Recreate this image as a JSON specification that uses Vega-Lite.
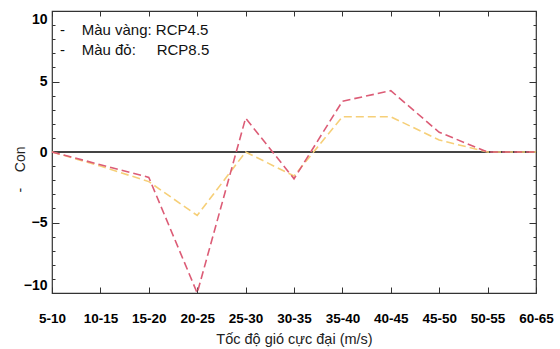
{
  "$schema": "https://vega.github.io/schema/vega-lite/v6.json",
  "width": 484,
  "height": 282,
  "autosize": {"type": "none"},
  "padding": {"left": 52, "top": 11, "right": 24, "bottom": 56},
  "background": "white",
  "config": {
    "view": {"stroke": "#333", "strokeWidth": 1.2},
    "font": "Liberation Sans"
  },
  "data": {
    "values": [
      {"cat": "5-10", "series": "RCP4.5", "v": 0},
      {"cat": "10-15", "series": "RCP4.5", "v": -1.0},
      {"cat": "15-20", "series": "RCP4.5", "v": -2.1},
      {"cat": "20-25", "series": "RCP4.5", "v": -4.5},
      {"cat": "25-30", "series": "RCP4.5", "v": 0},
      {"cat": "30-35", "series": "RCP4.5", "v": -1.7},
      {"cat": "35-40", "series": "RCP4.5", "v": 2.5},
      {"cat": "40-45", "series": "RCP4.5", "v": 2.5},
      {"cat": "45-50", "series": "RCP4.5", "v": 0.85},
      {"cat": "50-55", "series": "RCP4.5", "v": 0},
      {"cat": "60-65", "series": "RCP4.5", "v": 0},
      {"cat": "5-10", "series": "RCP8.5", "v": 0},
      {"cat": "10-15", "series": "RCP8.5", "v": -0.9},
      {"cat": "15-20", "series": "RCP8.5", "v": -1.8},
      {"cat": "20-25", "series": "RCP8.5", "v": -10},
      {"cat": "25-30", "series": "RCP8.5", "v": 2.4},
      {"cat": "30-35", "series": "RCP8.5", "v": -1.9},
      {"cat": "35-40", "series": "RCP8.5", "v": 3.6},
      {"cat": "40-45", "series": "RCP8.5", "v": 4.35},
      {"cat": "45-50", "series": "RCP8.5", "v": 1.4},
      {"cat": "50-55", "series": "RCP8.5", "v": 0},
      {"cat": "60-65", "series": "RCP8.5", "v": 0}
    ]
  },
  "resolve": {"axis": {"x": "independent", "y": "independent"}},
  "layer": [
    {
      "mark": {"type": "rule", "color": "#444", "strokeWidth": 1.6},
      "encoding": {
        "y": {"datum": 0, "type": "quantitative", "axis": null}
      }
    },
    {
      "mark": {"type": "line", "strokeWidth": 1.6, "strokeDash": [8, 4]},
      "encoding": {
        "x": {
          "field": "cat", "type": "ordinal", "sort": null,
          "scale": {"type": "point", "padding": 0},
          "axis": {
            "orient": "bottom", "title": "Tốc độ gió cực đại (m/s)",
            "labelAngle": 0, "labelFontWeight": "bold", "labelFontSize": 13.5,
            "labelColor": "black", "labelPadding": 24,
            "tickSize": -6, "tickColor": "#333", "domain": false, "grid": false,
            "titleFontWeight": "normal", "titleFontSize": 14.5, "titleColor": "#222",
            "titlePadding": 8
          }
        },
        "y": {
          "field": "v", "type": "quantitative",
          "scale": {"domain": [-10, 10], "nice": false, "zero": false},
          "axis": {
            "orient": "left",
            "values": [-10, -9, -8, -7, -6, -5, -4, -3, -2, -1, 0, 1, 2, 3, 4, 5, 6, 7, 8, 9, 10],
            "labelExpr": "datum.value % 5 === 0 ? datum.label : ''",
            "tickSize": {"condition": {"test": "datum.value % 5 === 0", "value": -7}, "value": -3},
            "tickColor": "#333",
            "labelFontWeight": "bold", "labelFontSize": 14, "labelColor": "black",
            "labelPadding": 12, "labelFlush": true, "labelFlushOffset": -1,
            "domain": false, "grid": false,
            "title": "-\u00a0\u00a0\u00a0\u00a0Con", "titleFontWeight": "normal", "titleFontSize": 14,
            "titleColor": "#222", "titlePadding": -4, "titleY": 158
          }
        },
        "color": {
          "field": "series", "type": "nominal",
          "scale": {"domain": ["RCP4.5", "RCP8.5"], "range": ["#f6cf78", "#dc5c76"]},
          "legend": {
            "orient": "none", "legendX": -13, "legendY": 11, "title": null, "padding": 0,
            "labelExpr": "datum.value === 'RCP4.5' ? '-\u00a0\u00a0\u00a0\u00a0Màu vàng: RCP4.5' : '-\u00a0\u00a0\u00a0\u00a0Màu đỏ:\u00a0\u00a0\u00a0\u00a0\u00a0RCP8.5'",
            "labelFontSize": 15, "labelColor": "#111", "labelOffset": 6,
            "symbolType": "circle", "symbolSize": 10, "symbolOpacity": 0,
            "rowPadding": 4
          }
        }
      }
    },
    {
      "mark": {"type": "line", "strokeOpacity": 0},
      "encoding": {
        "x": {
          "field": "cat", "type": "ordinal", "sort": null,
          "axis": {"orient": "top", "labels": false, "title": null, "tickSize": -5, "tickColor": "#333", "domain": false, "grid": false}
        },
        "y": {
          "field": "v", "type": "quantitative",
          "axis": {
            "orient": "right", "labels": false, "title": null,
            "values": [-10, -9, -8, -7, -6, -5, -4, -3, -2, -1, 0, 1, 2, 3, 4, 5, 6, 7, 8, 9, 10],
            "tickSize": {"condition": {"test": "datum.value % 5 === 0", "value": -7}, "value": -3},
            "tickColor": "#333", "domain": false, "grid": false
          }
        },
        "detail": {"field": "series"}
      }
    }
  ]
}
